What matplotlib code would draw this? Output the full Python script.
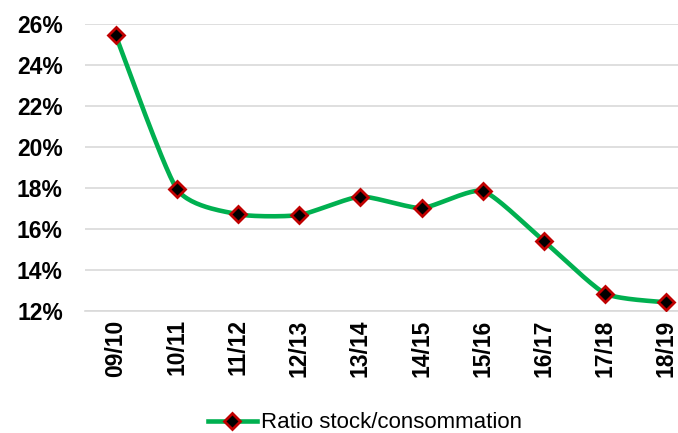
import matplotlib
matplotlib.use('Agg')
import matplotlib.pyplot as plt
import matplotlib.ticker as mticker
from matplotlib.lines import Line2D
import numpy as np

GREEN = '#00B050'
RED = '#C00000'
GRID = '#D9D9D9'
TEXT = '#000000'

seasons = ['09/10', '10/11', '11/12', '12/13', '13/14',
           '14/15', '15/16', '16/17', '17/18', '18/19']
ratio = [25.45, 17.95, 16.72, 16.68, 17.58, 17.02, 17.85, 15.40, 12.85, 12.42]
y_ticks = [12, 14, 16, 18, 20, 22, 24, 26]

plt.rcParams['font.family'] = ['Liberation Sans', 'DejaVu Sans']

fig = plt.figure(figsize=(6.78, 4.33), dpi=100)
ax = fig.add_axes([0.1254, 0.2818, 0.9027, 0.6628])

x = np.arange(len(seasons))
y = np.array(ratio)

# lightly smoothed line, as in the Excel original
pos = ax.get_position()
sx = pos.width * 678 / len(seasons)
sy = pos.height * 433 / (y_ticks[-1] - y_ticks[0])
px, py = x * sx, y * sy
k = 1 / 10
cx, cy = [], []
n = len(px)
for i in range(n - 1):
    i0, i3 = max(i - 1, 0), min(i + 2, n - 1)
    c1 = (px[i] + (px[i + 1] - px[i0]) * k, py[i] + (py[i + 1] - py[i0]) * k)
    c2 = (px[i + 1] - (px[i3] - px[i]) * k, py[i + 1] - (py[i3] - py[i]) * k)
    t = np.linspace(0, 1, 30)
    bx = (1 - t) ** 3 * px[i] + 3 * (1 - t) ** 2 * t * c1[0] + 3 * (1 - t) * t ** 2 * c2[0] + t ** 3 * px[i + 1]
    by = (1 - t) ** 3 * py[i] + 3 * (1 - t) ** 2 * t * c1[1] + 3 * (1 - t) * t ** 2 * c2[1] + t ** 3 * py[i + 1]
    cx.extend(bx / sx)
    cy.extend(by / sy)

ax.plot(cx, cy, color=GREEN, linewidth=3.3, solid_capstyle='round', zorder=3)
ax.plot(x, y, linestyle='none', marker='D', markersize=8.5,
        markerfacecolor='black', markeredgecolor=RED, markeredgewidth=2, zorder=4)

ax.set_xlim(-0.5, len(seasons) - 0.5)
ax.set_ylim(y_ticks[0], y_ticks[-1])
ax.set_yticks(y_ticks)
ax.yaxis.set_major_formatter(mticker.FuncFormatter(lambda v, p: f'{v:.0f}%'))
ax.set_xticks(x)
ax.set_xticklabels(seasons, rotation=90, fontweight='bold', fontsize=16.5, color=TEXT)
for lab in ax.get_yticklabels():
    lab.set_fontweight('bold')
    lab.set_fontsize(16.5)
ax.tick_params(axis='y', length=0, pad=16)
ax.tick_params(axis='x', length=0, pad=6)

ax.grid(axis='y', color=GRID, linewidth=1.2, zorder=0)
ax.set_axisbelow(True)
for s in ['top', 'right', 'left']:
    ax.spines[s].set_visible(False)
ax.spines['bottom'].set_color(GRID)
ax.spines['bottom'].set_linewidth(1.2)

handle = Line2D([0], [0], color=GREEN, linewidth=3.3, marker='D', markersize=8.5,
                markerfacecolor='black', markeredgecolor=RED, markeredgewidth=2)
fig.legend([handle], ['Ratio stock/consommation'], loc='center',
           bbox_to_anchor=(365 / 678, 10 / 433), frameon=False, fontsize=16,
           handlelength=2.2, handletextpad=0.2)

fig.savefig('out.png', dpi=100)
plt.close()
